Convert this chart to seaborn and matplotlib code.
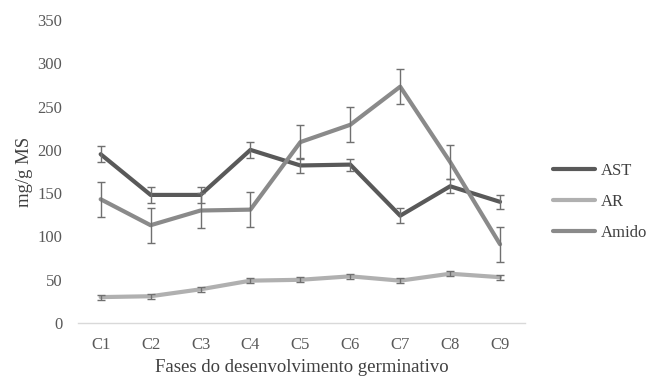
import matplotlib
matplotlib.use("Agg")
import matplotlib.pyplot as plt
import seaborn as sns
import pandas as pd

categories = ["C1", "C2", "C3", "C4", "C5", "C6", "C7", "C8", "C9"]
ast = [195, 148, 148, 200, 182, 183, 124, 158, 140]
ast_err = [9, 9, 9, 9, 9, 7, 9, 8, 8]
ar = [30, 31, 39, 49, 50, 54, 49, 57, 53]
ar_err = [3, 3, 3, 3, 3, 3, 3, 3, 3]
amido = [143, 113, 130, 131, 209, 229, 273, 186, 91]
amido_err = [20, 20, 20, 20, 20, 20, 20, 20, 20]
yticks = [0, 50, 100, 150, 200, 250, 300, 350]

sns.set_style("white")
plt.rcParams["font.family"] = ["Liberation Serif", "DejaVu Serif"]

fig = plt.figure(figsize=(6.53, 3.77), dpi=100)
ax = fig.add_axes([0.119, 0.143, 0.685, 0.804])

colors = {"AST": "#595959", "AR": "#b0b0b0", "Amido": "#8a8a8a"}
series = [("AST", ast, ast_err), ("AR", ar, ar_err), ("Amido", amido, amido_err)]
x = list(range(len(categories)))
for name, vals, errs in series:
    df = pd.DataFrame({"x": x, "y": vals})
    sns.lineplot(data=df, x="x", y="y", ax=ax, color=colors[name], linewidth=3, label=name)
    ax.errorbar(x, vals, yerr=errs, fmt="none", ecolor="#707070", elinewidth=1.0, capsize=3, capthick=1.0, zorder=3)

ax.set_xlim(-0.46, 8.5)
ax.set_ylim(0, 350)
ax.set_yticks(yticks)
ax.set_xticks(x)
ax.set_xticklabels(categories)
for s in ["top", "right", "left"]:
    ax.spines[s].set_visible(False)
ax.spines["bottom"].set_color("#d9d9d9")
ax.spines["bottom"].set_linewidth(1)
ax.tick_params(axis="both", length=0, labelsize=12, colors="#595959")
ax.tick_params(axis="y", pad=11)
ax.tick_params(axis="x", pad=10)
ax.set_xlabel("Fases do desenvolvimento germinativo", fontsize=13.5, color="#404040", labelpad=4)
ax.set_ylabel("mg/g MS", fontsize=13.5, color="#404040", labelpad=3.5)

leg = ax.legend(loc="center left", bbox_to_anchor=(1.03, 0.40), frameon=False, fontsize=12,
                handlelength=2.5, labelspacing=0.9, handletextpad=0.35)
for t in leg.get_texts():
    t.set_color("#404040")

fig.savefig("out.png", dpi=100, facecolor="white")
